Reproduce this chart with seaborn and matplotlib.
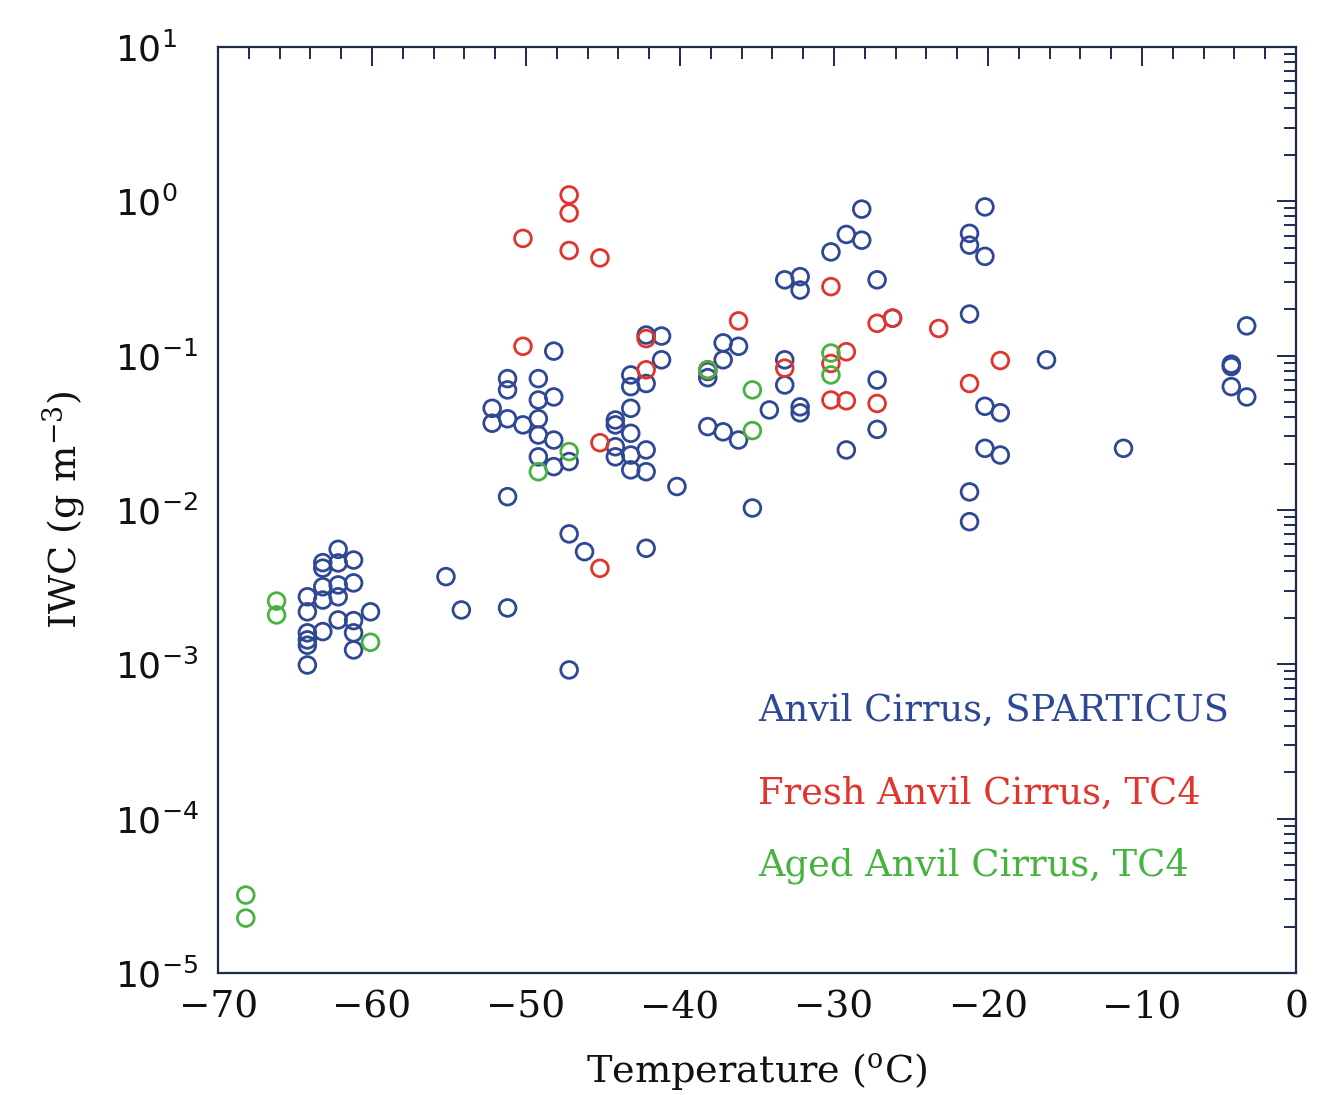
import matplotlib
matplotlib.use("Agg")
import matplotlib.pyplot as plt
import matplotlib.ticker as mticker
import numpy as np
import pandas as pd
import seaborn as sns

# Anvil cirrus, SPARTICUS: temperature (deg C) and ice water content (g m^-3)
sparticus_temp = [
    -64.2, -64.2, -64.2, -64.2, -64.2, -64.2,
    -63.2, -63.2, -63.2, -63.2, -63.2,
    -62.2, -62.2, -62.2, -62.2, -62.2,
    -61.2, -61.2, -61.2, -61.2, -61.2,
    -60.1, -55.2, -54.2, -51.2, -47.2,
    -48.2, -41.2, -41.2, -42.2,
    -51.2, -51.2, -49.2, -43.2, -43.2, -42.2, -38.2, -38.2, -37.2,
    -49.2, -48.2, -52.2, -52.2, -51.2, -50.2, -49.2, -49.2, -48.2,
    -43.2, -44.2, -44.2, -43.2, -44.2, -44.2, -43.2, -42.2, -43.2, -42.2,
    -49.2, -48.2, -47.2, -51.2, -40.2, -38.2, -37.2,
    -47.2, -46.2, -42.2,
    -28.2, -29.2, -28.2, -30.2, -33.2, -32.2, -32.2, -27.2,
    -36.2, -37.2, -33.2, -33.2, -27.2, -26.2,
    -34.2, -32.2, -32.2, -36.2, -27.2, -29.2, -35.3,
    -20.2, -21.2, -21.2, -20.2, -21.2, -16.2, -20.2, -19.2, -20.2, -19.2,
    -21.2, -21.2,
    -3.2, -4.2, -4.2, -4.2, -3.2, -11.2,
]
sparticus_iwc = [
    0.00274, 0.00219, 0.00160, 0.00144, 0.00133, 0.00099,
    0.00456, 0.00420, 0.00318, 0.00261, 0.00163,
    0.00556, 0.00454, 0.00327, 0.00274, 0.00194,
    0.00474, 0.00337, 0.00192, 0.00160, 0.00124,
    0.00219, 0.00370, 0.00225, 0.00232, 0.00092,
    0.107, 0.134, 0.094, 0.136,
    0.071, 0.060, 0.071, 0.075, 0.063, 0.066, 0.079, 0.072, 0.121,
    0.0516, 0.054, 0.0456, 0.0365, 0.039, 0.0356, 0.039, 0.0306, 0.0284,
    0.0456, 0.0383, 0.0356, 0.0314, 0.0257, 0.0221, 0.0227, 0.0245, 0.0182, 0.0177,
    0.0221, 0.0191, 0.0206, 0.0122, 0.0142, 0.0347, 0.0321,
    0.0070, 0.00537, 0.00565,
    0.89, 0.61, 0.56, 0.47, 0.31, 0.325, 0.266, 0.31,
    0.115, 0.094, 0.094, 0.0646, 0.0695, 0.175,
    0.0445, 0.0466, 0.0426, 0.0284, 0.0333, 0.0245, 0.0103,
    0.92, 0.62, 0.52, 0.44, 0.186, 0.094, 0.047, 0.0427, 0.0251, 0.0227,
    0.0131, 0.0084,
    0.156, 0.088, 0.085, 0.063, 0.054, 0.0251,
]

# Fresh anvil cirrus, TC4
fresh_temp = [
    -47.2, -47.2, -47.2, -50.2, -45.2, -50.2, -42.2, -42.2, -45.2, -45.2,
    -30.2, -36.2, -27.2, -26.2, -29.2, -30.2, -33.2, -38.2,
    -30.2, -29.2, -27.2, -23.2, -19.2, -21.2,
]
fresh_iwc = [
    1.10, 0.84, 0.48, 0.575, 0.43, 0.115, 0.129, 0.081, 0.0273, 0.00419,
    0.28, 0.168, 0.162, 0.175, 0.106, 0.089, 0.083, 0.081,
    0.0516, 0.051, 0.049, 0.150, 0.093, 0.066,
]

# Aged anvil cirrus, TC4
aged_temp = [-68.2, -68.2, -66.2, -66.2, -60.1, -49.2, -47.2, -38.2,
             -30.2, -30.2, -35.3, -35.3]
aged_iwc = [3.2e-5, 2.27e-5, 0.00257, 0.00209, 0.00139, 0.0177, 0.0239, 0.081,
            0.104, 0.075, 0.060, 0.0327]

groups = ["Anvil Cirrus, SPARTICUS", "Fresh Anvil Cirrus, TC4", "Aged Anvil Cirrus, TC4"]
colors = ["#2f4895", "#e0342c", "#46b23f"]

df = pd.concat([
    pd.DataFrame({"T": sparticus_temp, "IWC": sparticus_iwc, "group": groups[0]}),
    pd.DataFrame({"T": fresh_temp, "IWC": fresh_iwc, "group": groups[1]}),
    pd.DataFrame({"T": aged_temp, "IWC": aged_iwc, "group": groups[2]}),
], ignore_index=True)

sns.set_theme(style="white")
plt.rcParams["font.family"] = ["DejaVu Serif", "DejaVu Sans"]

fig = plt.figure(figsize=(13.2, 10.95), dpi=100)
ax = fig.add_axes([0.1652, 0.1114, 0.8166, 0.8457])

sns.scatterplot(data=df, x="T", y="IWC", hue="group", hue_order=groups,
                palette=colors, s=145, linewidth=2.0, legend=False, ax=ax)

# hollow circles: move the hue colour to the edge
for coll in ax.collections:
    fc = coll.get_facecolors()
    coll.set_edgecolors(fc)
    coll.set_facecolors("none")
    coll.set_linewidths(2.0)

ax.set_yscale("log")
ax.set_xlim(-70, 0)
ax.set_ylim(1e-5, 1e1)

ax.xaxis.set_major_locator(mticker.MultipleLocator(10))
ax.xaxis.set_minor_locator(mticker.MultipleLocator(2))
decades = 10.0 ** np.arange(-5, 2)
ax.yaxis.set_major_locator(mticker.FixedLocator(decades))
ax.yaxis.set_major_formatter(mticker.LogFormatterSciNotation())
minor_pos = [m * d for d in decades[:-1] for m in range(2, 10)]
ax.yaxis.set_minor_locator(mticker.FixedLocator(minor_pos))
ax.yaxis.set_minor_formatter(mticker.NullFormatter())

spine_col = "#1f2a4f"
for sp in ax.spines.values():
    sp.set_color(spine_col)
    sp.set_linewidth(1.6)

ax.tick_params(which="both", direction="in", top=True, right=True,
               color=spine_col, width=1.4)
ax.tick_params(which="major", length=13.5)
ax.tick_params(which="minor", length=8.5)
ax.tick_params(axis="x", which="major", labelsize=27, pad=12, labelcolor="#111111")
ax.tick_params(axis="y", which="major", labelsize=26, pad=74, labelcolor="#111111")

for lab in ax.get_xticklabels():
    lab.set_family("DejaVu Serif")
for lab in ax.get_yticklabels():
    lab.set_family("DejaVu Sans")
    lab.set_horizontalalignment("left")

ax.set_xlabel("Temperature ($^{\\rm o}$C)", fontsize=27.5, color="#111111",
              labelpad=18, math_fontfamily="dejavuserif")
ax.set_ylabel("IWC (g m$^{-3}$)", fontsize=27.5, color="#111111",
              labelpad=20, math_fontfamily="dejavuserif")

for name, col, yy in zip(groups, colors, [0.283, 0.194, 0.1156]):
    ax.text(0.501, yy, name, transform=ax.transAxes, color=col,
            fontsize=26.5, family="DejaVu Serif", ha="left", va="center")

ax.grid(False)
fig.savefig("out.png", dpi=100, facecolor="white")
